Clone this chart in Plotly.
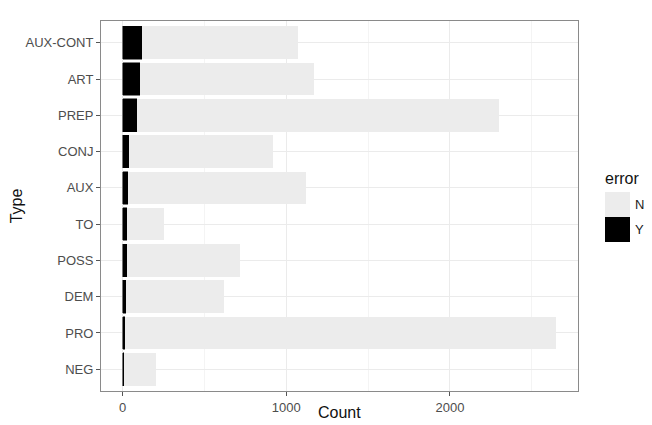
import plotly.graph_objects as go

# word types, listed bottom to top
types = ['NEG', 'PRO', 'DEM', 'POSS', 'TO', 'AUX', 'CONJ', 'PREP', 'ART', 'AUX-CONT']
# counts without / with an error
count_n = [195, 2636, 598, 691, 228, 1088, 878, 2211, 1065, 957]
count_y = [10, 14, 20, 24, 24, 32, 41, 90, 106, 116]

fig = go.Figure()
fig.add_trace(go.Bar(y=types, x=count_y, orientation='h', name='Y',
                     marker=dict(color='#000000', line=dict(color='#000000', width=0.5)),
                     showlegend=False))
fig.add_trace(go.Bar(y=types, x=count_n, orientation='h', name='N',
                     marker=dict(color='#ececec', line=dict(width=0)),
                     showlegend=False))

tick_font = dict(family='Liberation Sans, Arial, sans-serif', size=13, color='#4d4d4d')
title_font = dict(family='Liberation Sans, Arial, sans-serif', size=16, color='#111111')

# the page puts the figure 8px in from the top-left corner, so margins are shifted by that
fig.update_layout(
    width=652, height=425,
    margin=dict(l=93, r=82, t=13, b=42, autoexpand=False),
    barmode='stack', bargap=0.1,
    plot_bgcolor='white', paper_bgcolor='white',
    font=dict(family='Liberation Sans, Arial, sans-serif', color='black'),
    xaxis=dict(range=[-132.5, 2782.5], tickvals=[0, 1000, 2000], ticks='outside',
               ticklen=4, tickcolor='#555555', tickfont=tick_font,
               showgrid=True, gridcolor='#ebebeb', gridwidth=1,
               minor=dict(tick0=0, dtick=500, showgrid=True, gridcolor='#f4f4f4', gridwidth=1),
               showline=True, mirror=True, linecolor='#8a8a8a', linewidth=1,
               zeroline=False, automargin=False),
    yaxis=dict(categoryorder='array', categoryarray=types, range=[-0.6, 9.6],
               ticks='outside', ticklen=4, tickcolor='#555555', tickfont=tick_font,
               showgrid=True, gridcolor='#ebebeb', gridwidth=1,
               showline=True, mirror=True, linecolor='#8a8a8a', linewidth=1,
               automargin=False,
               title=dict(text='Type', font=title_font, standoff=11)),
)

# pixel positions (as seen on screen) -> paper coords
def px_x(v):
    return (v - 101) / 477
def px_y(v):
    return (391 - v) / 370

# x title as an annotation so it sits just inside the bottom edge
fig.add_annotation(x=0.5, y=px_y(412), xref='paper', yref='paper', text='Count',
                   showarrow=False, xanchor='center', yanchor='middle', font=title_font)

# legend drawn by hand, ggplot-style square keys
legend_items = [('N', '#ececec', 192), ('Y', '#000000', 217)]
fig.add_annotation(x=px_x(603), y=px_y(178), xref='paper', yref='paper', text='error',
                   showarrow=False, xanchor='left', yanchor='middle',
                   font=title_font)
for label, colour, top in legend_items:
    fig.add_shape(type='rect', xref='paper', yref='paper',
                  x0=px_x(605), x1=px_x(630), y0=px_y(top + 25), y1=px_y(top),
                  fillcolor=colour, line=dict(width=0))
    fig.add_annotation(x=px_x(633), y=px_y(top + 12.5), xref='paper', yref='paper',
                       text=label, showarrow=False, xanchor='left', yanchor='middle',
                       font=dict(family='Liberation Sans, Arial, sans-serif', size=13,
                                 color='#222222'))

fig.write_html("out.html")
